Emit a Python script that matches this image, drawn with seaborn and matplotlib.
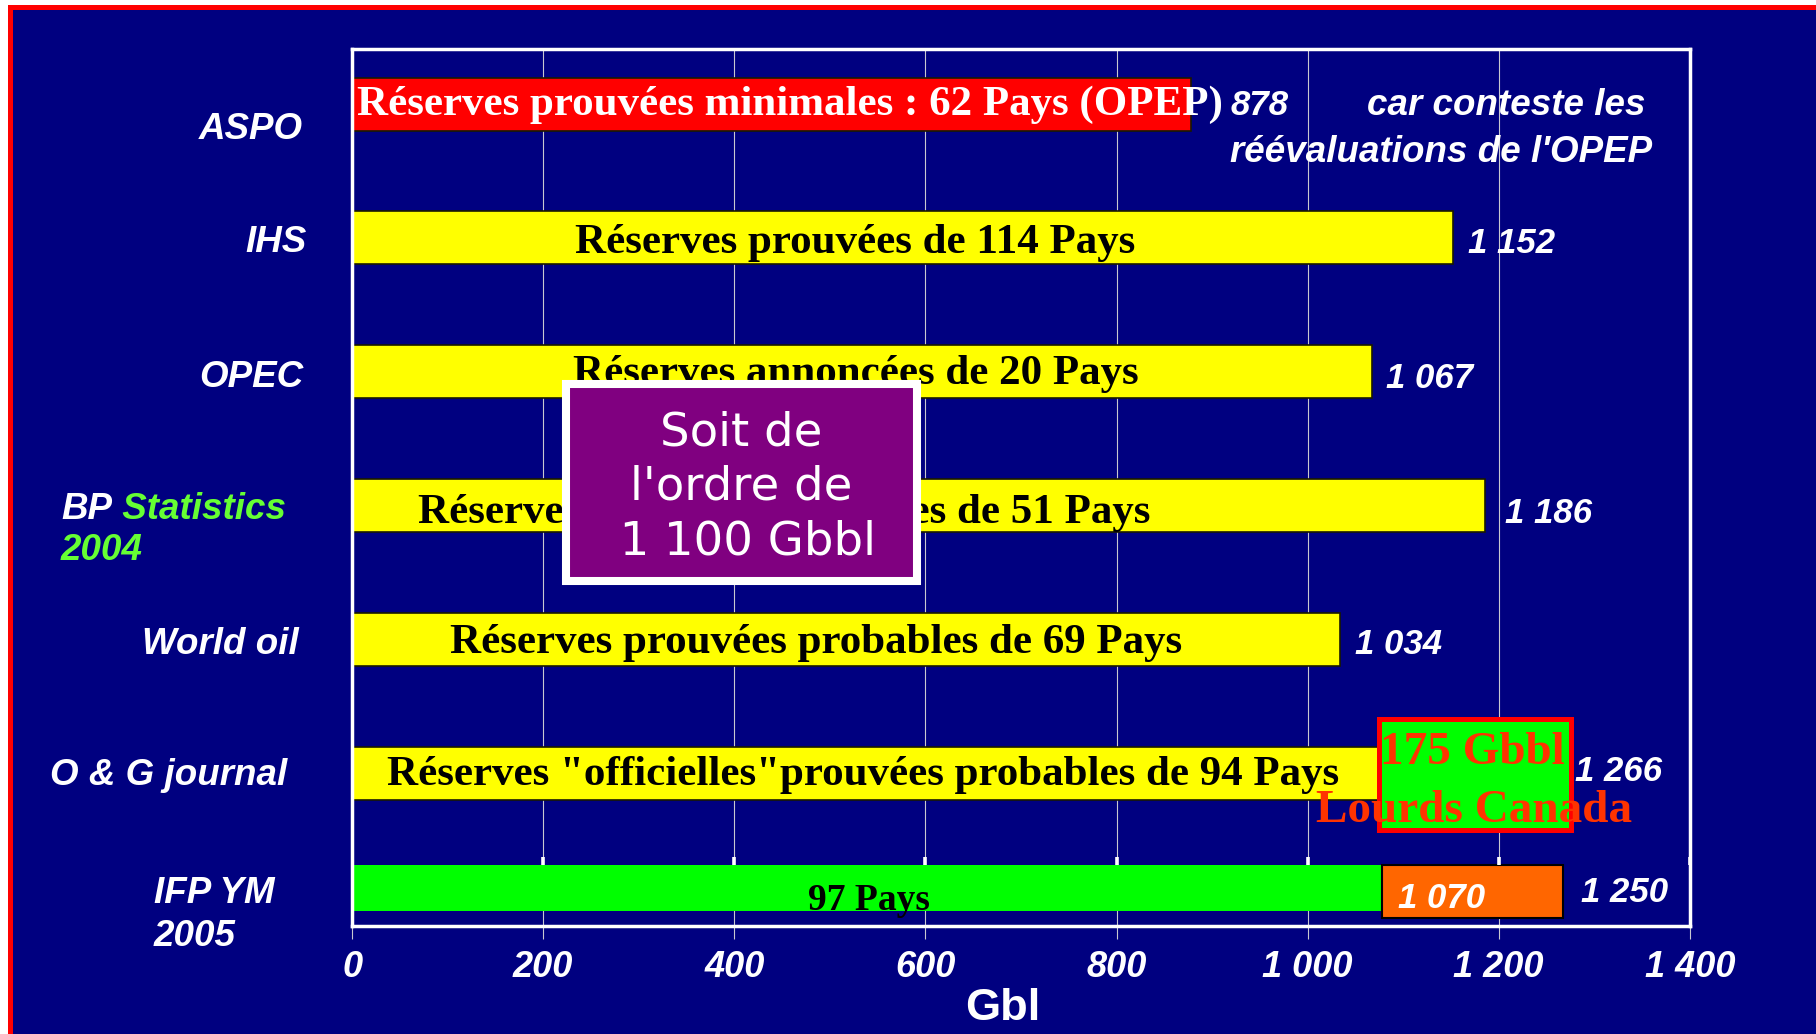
import numpy as np
import pandas as pd
import matplotlib
matplotlib.use("Agg")
import matplotlib.pyplot as plt
import seaborn as sns
from matplotlib.patches import Rectangle
from matplotlib.transforms import blended_transform_factory

# data (Gbl)
sources = ["ASPO", "IHS", "OPEC", "BP Statistics 2004", "World oil",
           "O & G journal", "IFP YM 2005"]
reserves = [878, 1152, 1067, 1186, 1034, 1266]
value_labels = ["878", "1 152", "1 067", "1 186", "1 034", "1 266"]
bar_texts = ["Réserves prouvées minimales : 62 Pays (OPEP)",
             "Réserves prouvées de 114 Pays",
             "Réserves annoncées de 20 Pays",
             "Réserves prouvées probables de 51 Pays",
             "Réserves prouvées probables de 69 Pays",
             "Réserves \"officielles\"prouvées probables de 94 Pays"]
ifp_conventional = 1078
ifp_total = 1267
ifp_labels = ["1 070", "1 250", "97 Pays"]
canada_box = [1072, 1278]
canada_text = ["175 Gbbl", "Lourds Canada"]
aspo_note = ["car conteste les", "réévaluations de l'OPEP"]
summary_text = "Soit de\nl'ordre de\n 1 100 Gbbl"
xticks = [0, 200, 400, 600, 800, 1000, 1200, 1400]
xtick_labels = ["0", "200", "400", "600", "800", "1 000", "1 200", "1 400"]

NAVY = "#000080"
YELLOW = "#ffff00"
SANS = "Liberation Sans"
SERIF = "Liberation Serif"

plt.rcParams["font.family"] = ["Liberation Sans", "DejaVu Sans"]

fig = plt.figure(figsize=(18.16, 10.34), dpi=100, facecolor="white")
# navy slide with red border on top/left
fig.add_artist(Rectangle((9.5 / 1816, -0.05), 1.1, 1 - 6.5 / 1034 + 0.05,
                         transform=fig.transFigure, facecolor=NAVY,
                         edgecolor="#ff0000", linewidth=3.6, zorder=-10))

ax = fig.add_axes([352.1 / 1816, 108 / 1034, 1337.7 / 1816, 877 / 1034])
ax.set_facecolor(NAVY)

rows = list(range(len(reserves)))
ifp_row = 5.87
palette = {s: ("#ff0000" if s == "ASPO" else YELLOW) for s in sources}

df = pd.DataFrame({"source": sources[:6], "reserves": reserves, "row": rows})
sns.barplot(data=df, x="reserves", y="row", hue="source", palette=palette,
            orient="h", native_scale=True, width=0.396, saturation=1,
            legend=False, errorbar=None, edgecolor="#1a1a00", linewidth=1.2,
            ax=ax, zorder=3)

# IFP stacked bar: conventional (green) + heavy Canada (orange)
sns.barplot(x=[ifp_conventional], y=[ifp_row - 0.012], orient="h", native_scale=True,
            width=0.344, color="#00ff00", saturation=1, errorbar=None,
            linewidth=0, ax=ax, zorder=3)
sns.barplot(x=[ifp_total - ifp_conventional], y=[ifp_row + 0.015], orient="h",
            native_scale=True, width=0.396, color="#ff6600", saturation=1,
            errorbar=None, edgecolor="black", linewidth=1.5, left=ifp_conventional,
            ax=ax, zorder=3)

ax.set_xlim(0, 1400)
ax.set_ylim(6.142, -0.412)
ax.set_yticks([])
ax.set_xticks(xticks, xtick_labels)
ax.set_xlabel("")
ax.set_ylabel("")
ax.grid(axis="x", color="#c8c8d0", linewidth=0.8, zorder=1)
ax.set_axisbelow(True)
ax.tick_params(axis="x", colors="#c8c8d0", length=9.4, width=0.8, pad=8,
               labelcolor="white", labelsize=26)
for lbl in ax.get_xticklabels():
    lbl.set_fontstyle("italic")
    lbl.set_fontweight("bold")
for sp in ax.spines.values():
    sp.set_color("white")
    sp.set_linewidth(2.5)
    sp.set_zorder(6)

# little white ticks above the IFP bar
ax.vlines(xticks[1:], 5.626, 5.686, colors="white", linewidth=2.6, zorder=4)

# texts inside the bars
text_x = [5, 526, 527, 452, 486, 535]
text_dy = [0.005, 0.04, 0.015, 0.055, 0.03, 0.015]
for i, t in enumerate(bar_texts):
    ax.text(text_x[i], rows[i] + text_dy[i], t, ha="left" if i == 0 else "center",
            va="center", family=SERIF, fontweight="bold", fontsize=31,
            color="white" if i == 0 else "black", zorder=5)
ax.text(541, ifp_row + 0.085, ifp_labels[2], ha="center", va="center",
        family=SERIF, fontweight="bold", fontsize=27, color="black", zorder=5)

# value labels
label_x = [919, 1168, 1082, 1207, 1050, 1280]
label_dy = [0.01, 0.045, 0.05, 0.06, 0.035, -0.01]
vfont = dict(family=SANS, fontstyle="italic", fontweight="bold", fontsize=25,
             color="white", va="center", ha="left", zorder=5)
for i, t in enumerate(value_labels):
    ax.text(label_x[i], rows[i] + label_dy[i], t, **vfont)
ax.text(1095, ifp_row + 0.07, ifp_labels[0], **vfont)
ax.text(1286, ifp_row + 0.02, ifp_labels[1], **vfont)
nfont = dict(vfont, fontsize=26.5)
ax.text(1062, 0.01, aspo_note[0], **nfont)
ax.text(919, 0.358, aspo_note[1], **nfont)

# heavy oil Canada box
ax.add_patch(Rectangle((canada_box[0] + 2.6, 4.592), canada_box[1] - canada_box[0] - 5.2,
                       0.836, facecolor="#00ff00", edgecolor="#ff0000",
                       linewidth=3.6, zorder=7))
ax.text(1172, 4.85, canada_text[0], ha="center", va="center", family=SERIF,
        fontweight="bold", fontsize=34, color="#ff3300", zorder=8)
ax.text(1174, 5.28, canada_text[1], ha="center", va="center", family=SERIF,
        fontweight="bold", fontsize=34, color="#ff3300", zorder=8, clip_on=False)

# purple summary box
ax.add_patch(Rectangle((223.5, 2.091), 367.3, 1.472, facecolor="#800080",
                       edgecolor="white", linewidth=5.8, zorder=7))
ax.text(407, 2.865, summary_text, ha="center", va="center", multialignment="center",
        family="DejaVu Sans", fontsize=33.5, color="white", linespacing=1.27, zorder=8)

# source labels on the left
tr = blended_transform_factory(fig.transFigure, ax.transData)
lfont = dict(family=SANS, fontstyle="italic", fontweight="bold", fontsize=26.5,
             va="center", transform=tr)
left_labels = [("ASPO", 303, 0.19), ("IHS", 307, 1.034), ("OPEC", 303, 2.044),
               ("World oil", 299, 4.035), ("O & G journal", 287, 5.02)]
for name, px, y in left_labels:
    ax.text(px / 1816, y, name, ha="right", color="white", **lfont)
bp = ax.text(61 / 1816, 3.033, "BP", ha="left", color="white", **lfont)
ax.annotate(" Statistics", xy=(1, 0.5), xycoords=bp, ha="left", va="center",
            family=SANS, fontstyle="italic", fontweight="bold", fontsize=26.5,
            color="#66ff33")
ax.text(61 / 1816, 3.336, "2004", ha="left", color="#66ff33", **lfont)
ax.text(154 / 1816, 5.896, "IFP YM", ha="left", color="white", **lfont)
ax.text(154 / 1816, 6.22, "2005", ha="left", color="white", **lfont)

fig.text(1003 / 1816, 1 - 1008 / 1034, "Gbl", ha="center", va="center",
         family=SANS, fontweight="bold", fontsize=32.5, color="white")

fig.savefig("out.png", dpi=100, facecolor="white")
